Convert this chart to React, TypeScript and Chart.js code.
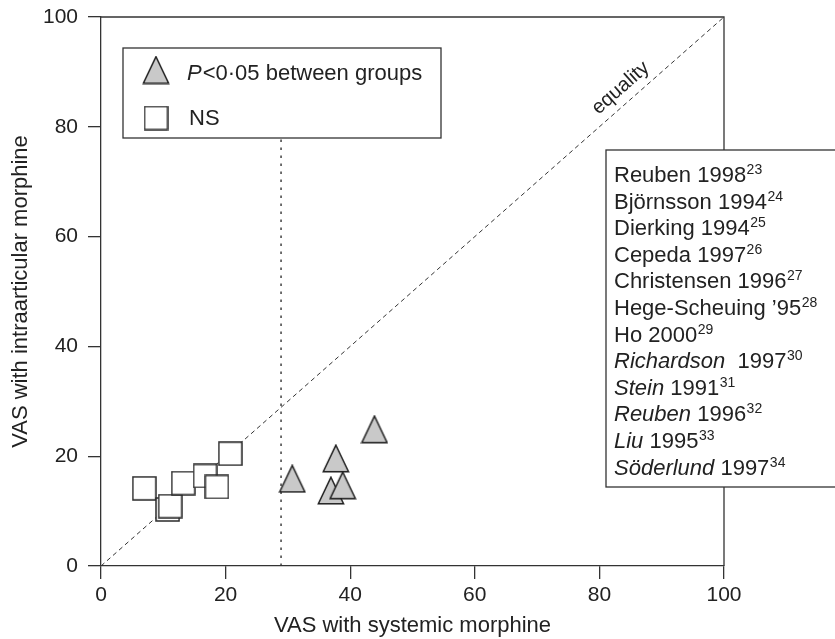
import { useEffect, useRef } from "react";
import { Chart, registerables } from "chart.js";

Chart.register(...registerables);

// Pain scores (VAS, 0–100) per study
const nsX = [6.95, 10.7, 11.1, 13.2, 16.7, 18.6, 20.75];
const nsY = [14.15, 10.3, 10.9, 15.1, 16.4, 14.4, 20.45];
const sigX = [30.7, 37.7, 36.9, 38.8, 43.9];
const sigY = [15.9, 19.6, 13.75, 14.7, 24.9];

const axisTicks = [0, 20, 40, 60, 80, 100];
const equalityEnds = [0, 100];
const dividerX = 28.9;
const dividerTop = 78;

const studyAuthors = [
  "Reuben", "Björnsson", "Dierking", "Cepeda", "Christensen", "Hege-Scheuing",
  "Ho", "Richardson ", "Stein", "Reuben", "Liu", "Söderlund",
];
const studyYears = ["1998", "1994", "1994", "1997", "1996", "’95", "2000", "1997", "1991", "1996", "1995", "1997"];
const studyRefs = ["23", "24", "25", "26", "27", "28", "29", "30", "31", "32", "33", "34"];
const studySignificant = [false, false, false, false, false, false, false, true, true, true, true, true];

const W = 835;
const H = 639;
const FONT = "'Liberation Sans', Arial, Helvetica, sans-serif";
const INK = "#222";
const LINE = "#333";

function makeSquare(): HTMLCanvasElement {
  const c = document.createElement("canvas");
  c.width = 25;
  c.height = 25;
  const g = c.getContext("2d")!;
  g.fillStyle = "#fff";
  g.fillRect(1, 1, 23, 23);
  g.strokeStyle = "#2a2a2a";
  g.lineWidth = 1.5;
  g.strokeRect(1, 1, 23, 23);
  return c;
}

function makeTriangle(): HTMLCanvasElement {
  const c = document.createElement("canvas");
  c.width = 28;
  c.height = 29;
  const g = c.getContext("2d")!;
  g.beginPath();
  g.moveTo(14, 1.2);
  g.lineTo(26.6, 27.8);
  g.lineTo(1.4, 27.8);
  g.closePath();
  g.fillStyle = "#c9c9c9";
  g.fill();
  g.strokeStyle = "#1e1e1e";
  g.lineWidth = 1.5;
  g.stroke();
  return c;
}

export default function App() {
  const ref = useRef<HTMLCanvasElement | null>(null);

  useEffect(() => {
    const canvas = ref.current;
    if (!canvas) return;
    const squareImg = makeSquare();
    const triImg = makeTriangle();

    const decor = {
      id: "decor",
      beforeDatasetsDraw(chart: any) {
        const { ctx, chartArea: a } = chart;
        ctx.save();
        ctx.strokeStyle = LINE;
        ctx.lineWidth = 1.3;
        ctx.beginPath();
        ctx.moveTo(a.left, a.top);
        ctx.lineTo(a.right, a.top);
        ctx.lineTo(a.right, a.bottom);
        ctx.stroke();
        ctx.restore();
      },
      afterDraw(chart: any) {
        const { ctx } = chart;
        const xs = chart.scales.x;
        const ys = chart.scales.y;

        // label along the line of equality
        const p0x = xs.getPixelForValue(equalityEnds[0]);
        const p0y = ys.getPixelForValue(equalityEnds[0]);
        const p1x = xs.getPixelForValue(equalityEnds[1]);
        const p1y = ys.getPixelForValue(equalityEnds[1]);
        const dx = p1x - p0x;
        const dy = p1y - p0y;
        const len = Math.hypot(dx, dy);
        const ang = Math.atan2(dy, dx);
        const f = 0.85;
        const off = 15;
        const cx = p0x + dx * f + (dy / len) * off;
        const cy = p0y + dy * f - (dx / len) * off;
        ctx.save();
        ctx.translate(cx, cy);
        ctx.rotate(ang);
        ctx.font = `20px ${FONT}`;
        ctx.fillStyle = INK;
        ctx.textAlign = "center";
        ctx.textBaseline = "middle";
        ctx.fillText("equality", 0, 0);
        ctx.restore();

        // symbol key
        const kl = 123, kt = 48, kw = 318, kh = 90;
        ctx.save();
        ctx.fillStyle = "#fff";
        ctx.fillRect(kl, kt, kw, kh);
        ctx.strokeStyle = LINE;
        ctx.lineWidth = 1.3;
        ctx.strokeRect(kl, kt, kw, kh);
        ctx.drawImage(triImg, 156 - 14, 70 - 14.5);
        ctx.drawImage(squareImg, 156 - 12.5, 118 - 12.5);
        ctx.fillStyle = INK;
        ctx.textBaseline = "middle";
        ctx.textAlign = "left";
        ctx.font = `italic 22px ${FONT}`;
        ctx.fillText("P", 187, 74);
        const pw = ctx.measureText("P").width;
        ctx.font = `22px ${FONT}`;
        ctx.fillText("<0·05 between groups", 187 + pw + 1, 74);
        ctx.fillText("NS", 189, 119);
        ctx.restore();

        // study list
        ctx.save();
        ctx.fillStyle = "#fff";
        ctx.fillRect(606, 150, 260, 337);
        ctx.strokeStyle = LINE;
        ctx.lineWidth = 1.3;
        ctx.strokeRect(606, 150, 260, 337);
        ctx.fillStyle = INK;
        ctx.textBaseline = "alphabetic";
        ctx.textAlign = "left";
        const x0 = 614;
        const base0 = 182;
        const step = 26.6;
        studyAuthors.forEach((name, i) => {
          const by = base0 + i * step;
          let x = x0;
          if (studySignificant[i]) {
            ctx.font = `italic 22px ${FONT}`;
            ctx.fillText(name, x, by);
            x += ctx.measureText(name).width;
            ctx.font = `22px ${FONT}`;
            const yr = " " + studyYears[i];
            ctx.fillText(yr, x, by);
            x += ctx.measureText(yr).width;
          } else {
            ctx.font = `22px ${FONT}`;
            const t = name + " " + studyYears[i];
            ctx.fillText(t, x, by);
            x += ctx.measureText(t).width;
          }
          ctx.font = `14px ${FONT}`;
          ctx.fillText(studyRefs[i], x + 0.5, by - 8);
        });
        ctx.restore();
      },
    };

    const tickFont = { family: FONT, size: 21 };
    const titleFont = { family: FONT, size: 22 };

    const chart = new Chart(canvas, {
      type: "scatter",
      data: {
        datasets: [
          {
            label: "P<0·05 between groups",
            data: sigX.map((x, i) => ({ x, y: sigY[i] })),
            pointStyle: triImg as any,
            pointRadius: 12,
          },
          {
            label: "NS",
            data: nsX.map((x, i) => ({ x, y: nsY[i] })),
            pointStyle: squareImg as any,
            pointRadius: 12,
          },
          {
            type: "line",
            label: "equality",
            data: equalityEnds.map((v) => ({ x: v, y: v })),
            borderColor: LINE,
            borderWidth: 1,
            borderDash: [4.5, 3.5],
            pointRadius: 0,
            fill: false,
          } as any,
          {
            type: "line",
            label: "divider",
            data: [
              { x: dividerX, y: 0 },
              { x: dividerX, y: dividerTop },
            ],
            borderColor: LINE,
            borderWidth: 1.4,
            borderDash: [2.5, 5.5],
            pointRadius: 0,
            fill: false,
          } as any,
        ],
      },
      options: {
        responsive: false,
        animation: false,
        events: [],
        layout: { padding: { left: 0, top: 17, right: W - 724, bottom: 0 } },
        plugins: {
          legend: { display: false },
          tooltip: { enabled: false },
        },
        scales: {
          x: {
            type: "linear",
            min: 0,
            max: 100,
            afterBuildTicks: (s: any) => {
              s.ticks = axisTicks.map((v) => ({ value: v }));
            },
            afterFit: (s: any) => {
              s.height = H - 566;
              s.paddingLeft = 0;
              s.paddingRight = 0;
            },
            grid: { drawOnChartArea: false, drawTicks: true, tickLength: 13, color: LINE, lineWidth: 1.3 },
            border: { display: true, color: LINE, width: 1.3 },
            ticks: { font: tickFont, color: INK, padding: 4, maxRotation: 0 },
            title: {
              display: true,
              text: "VAS with systemic morphine",
              font: titleFont,
              color: INK,
              padding: { top: 0, bottom: 0 },
            },
          },
          y: {
            type: "linear",
            min: 0,
            max: 100,
            afterBuildTicks: (s: any) => {
              s.ticks = axisTicks.map((v) => ({ value: v }));
            },
            afterFit: (s: any) => {
              s.width = 101;
              s.paddingTop = 0;
              s.paddingBottom = 0;
            },
            grid: { drawOnChartArea: false, drawTicks: true, tickLength: 13, color: LINE, lineWidth: 1.3 },
            border: { display: true, color: LINE, width: 1.3 },
            ticks: { font: tickFont, color: INK, padding: 10 },
            title: {
              display: true,
              text: "VAS with intraarticular morphine",
              font: titleFont,
              color: INK,
              padding: { top: 8, bottom: 0 },
            },
          },
        },
      },
      plugins: [decor],
    });

    return () => chart.destroy();
  }, []);

  return (
    <div style={{ position: "fixed", left: 0, top: 0, width: W, height: H, background: "#fff" }}>
      <canvas ref={ref} width={W} height={H} style={{ display: "block", width: W, height: H }} />
    </div>
  );
}
